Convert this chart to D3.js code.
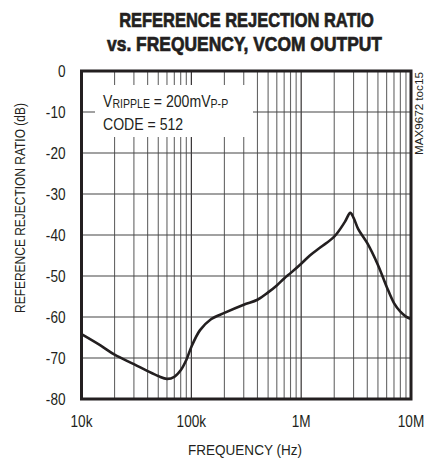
<!DOCTYPE html>
<html>
<head>
<meta charset="utf-8">
<script src="https://cdn.jsdelivr.net/npm/d3@7"></script>
<style>
  body { margin: 0; background: #fff; }
  text { font-family: "Liberation Sans", Arial, sans-serif; fill: #231f20; }
</style>
</head>
<body>
<div id="chart"></div>
<script>
// frequency (Hz) and reference rejection ratio (dB)
var freq = [1e4, 1.5e4, 2e4, 3e4, 4e4, 5e4, 6e4, 7e4, 8e4, 9e4, 1e5, 1.2e5, 1.5e5, 2e5, 3e5, 4e5, 5e5, 6e5, 7e5, 8e5, 1e6, 1.2e6, 1.5e6, 2e6, 2.5e6, 2.8e6, 3e6, 3.3e6, 4e6, 5e6, 6e6, 7e6, 8e6, 9e6, 1e7];
var rr = [-64.2, -67, -69.2, -71.5, -73.2, -74.4, -75.1, -74.6, -73, -70.5, -67.3, -63.2, -60.6, -59, -57, -55.8, -54, -52.3, -50.6, -49.3, -47, -45, -43, -40.4, -36.8, -34.6, -35.8, -38.5, -42, -47.3, -52.6, -56.6, -58.7, -59.9, -60.5];
var xTicks = [1e4, 1e5, 1e6, 1e7];
var xTickLabels = ["10k", "100k", "1M", "10M"];
var yTicks = [0, -10, -20, -30, -40, -50, -60, -70, -80];

var margin = { top: 71, left: 81.5, right: 16, bottom: 61 };
var W = 427, H = 460;
var width = W - margin.left - margin.right;
var height = H - margin.top - margin.bottom;

var svg = d3.select("#chart").append("svg")
  .attr("width", W).attr("height", H);

// squeeze a text horizontally so it looks condensed like the original
function condensed(parent, px, py, rot, anchor, size, str, sx) {
  var t = parent.append("text")
    .attr("text-anchor", anchor)
    .style("font-size", size + "px")
    .text(str);
  t.attr("transform", "translate(" + px + "," + py + ") rotate(" + rot + ") scale(" + sx + ",1)");
  return t;
}
function fitted(parent, px, py, rot, anchor, size, str, target) {
  var t = condensed(parent, px, py, rot, anchor, size, str, 1);
  var w = t.node().getComputedTextLength();
  t.attr("transform", "translate(" + px + "," + py + ") rotate(" + rot + ") scale(" + (target / w) + ",1)");
  return t;
}

// title
fitted(svg, 246.5, 27, 0, "middle", 20.5, "REFERENCE REJECTION RATIO", 253)
  .style("font-weight", "bold").style("stroke", "#231f20").style("stroke-width", 0.7);
fitted(svg, 244.5, 50.5, 0, "middle", 20.5, "vs. FREQUENCY, VCOM OUTPUT", 273)
  .style("font-weight", "bold").style("stroke", "#231f20").style("stroke-width", 0.7);

var g = svg.append("g")
  .attr("transform", "translate(" + margin.left + "," + margin.top + ")");

var x = d3.scaleLog().domain([1e4, 1e7]).range([0, width]);
var y = d3.scaleLinear().domain([-80, 0]).range([height, 0]);

// vertical grid: every 1..9 in each decade
var minor = [];
[1e4, 1e5, 1e6].forEach(function (d) {
  for (var k = 1; k <= 9; k++) minor.push(d * k);
});
g.selectAll(".vgrid").data(minor.concat([1e7])).enter()
  .append("line")
  .attr("x1", function (d) { return x(d); })
  .attr("x2", function (d) { return x(d); })
  .attr("y1", 0).attr("y2", height)
  .attr("stroke", function (d) { return xTicks.indexOf(d) >= 0 ? "#231f20" : "#666"; })
  .attr("stroke-width", 1.1);

g.selectAll(".hgrid").data(yTicks).enter()
  .append("line")
  .attr("x1", 0).attr("x2", width)
  .attr("y1", function (d) { return y(d); })
  .attr("y2", function (d) { return y(d); })
  .attr("stroke", "#444").attr("stroke-width", 1.2);

// annotation box hides the grid
g.append("rect")
  .attr("x", 95 - margin.left).attr("y", 85 - margin.top)
  .attr("width", 158).attr("height", 52)
  .attr("fill", "#fff");
var note = g.append("text")
  .attr("transform", "translate(" + (103 - margin.left) + "," + (106.5 - margin.top) + ") scale(0.88,1)")
  .style("font-size", "16px");
note.append("tspan").text("V");
note.append("tspan").style("font-size", "12px").attr("dy", 1).text("RIPPLE");
note.append("tspan").attr("dy", -1).text(" = 200mV");
note.append("tspan").style("font-size", "12px").attr("dy", 1).text("P-P");
condensed(g, 103 - margin.left, 130 - margin.top, 0, "start", 16, "CODE = 512", 0.88);

// frame
g.append("rect").attr("width", width).attr("height", height)
  .attr("fill", "none").attr("stroke", "#231f20").attr("stroke-width", 3);

// curve
var line = d3.line()
  .x(function (d, i) { return x(freq[i]); })
  .y(function (d) { return y(d); })
  .curve(d3.curveCatmullRom);
g.append("path").datum(rr)
  .attr("d", line)
  .attr("fill", "none").attr("stroke", "#231f20").attr("stroke-width", 2.6);

// y tick labels
yTicks.forEach(function (d) {
  condensed(g, -16, y(d) + 6, 0, "end", 16, String(d), 0.85);
});

// x tick labels
xTicks.forEach(function (d, i) {
  condensed(g, x(d), height + 28, 0, "middle", 16, xTickLabels[i], 0.85);
});

// axis titles
fitted(svg, 245, 455, 0, "middle", 15, "FREQUENCY (Hz)", 114);
fitted(svg, 25, 208, -90, "middle", 15, "REFERENCE REJECTION RATIO (dB)", 210);

// part number tag
fitted(svg, 423, 155, -90, "start", 10.5, "MAX9672 toc15", 83);
</script>
</body>
</html>
